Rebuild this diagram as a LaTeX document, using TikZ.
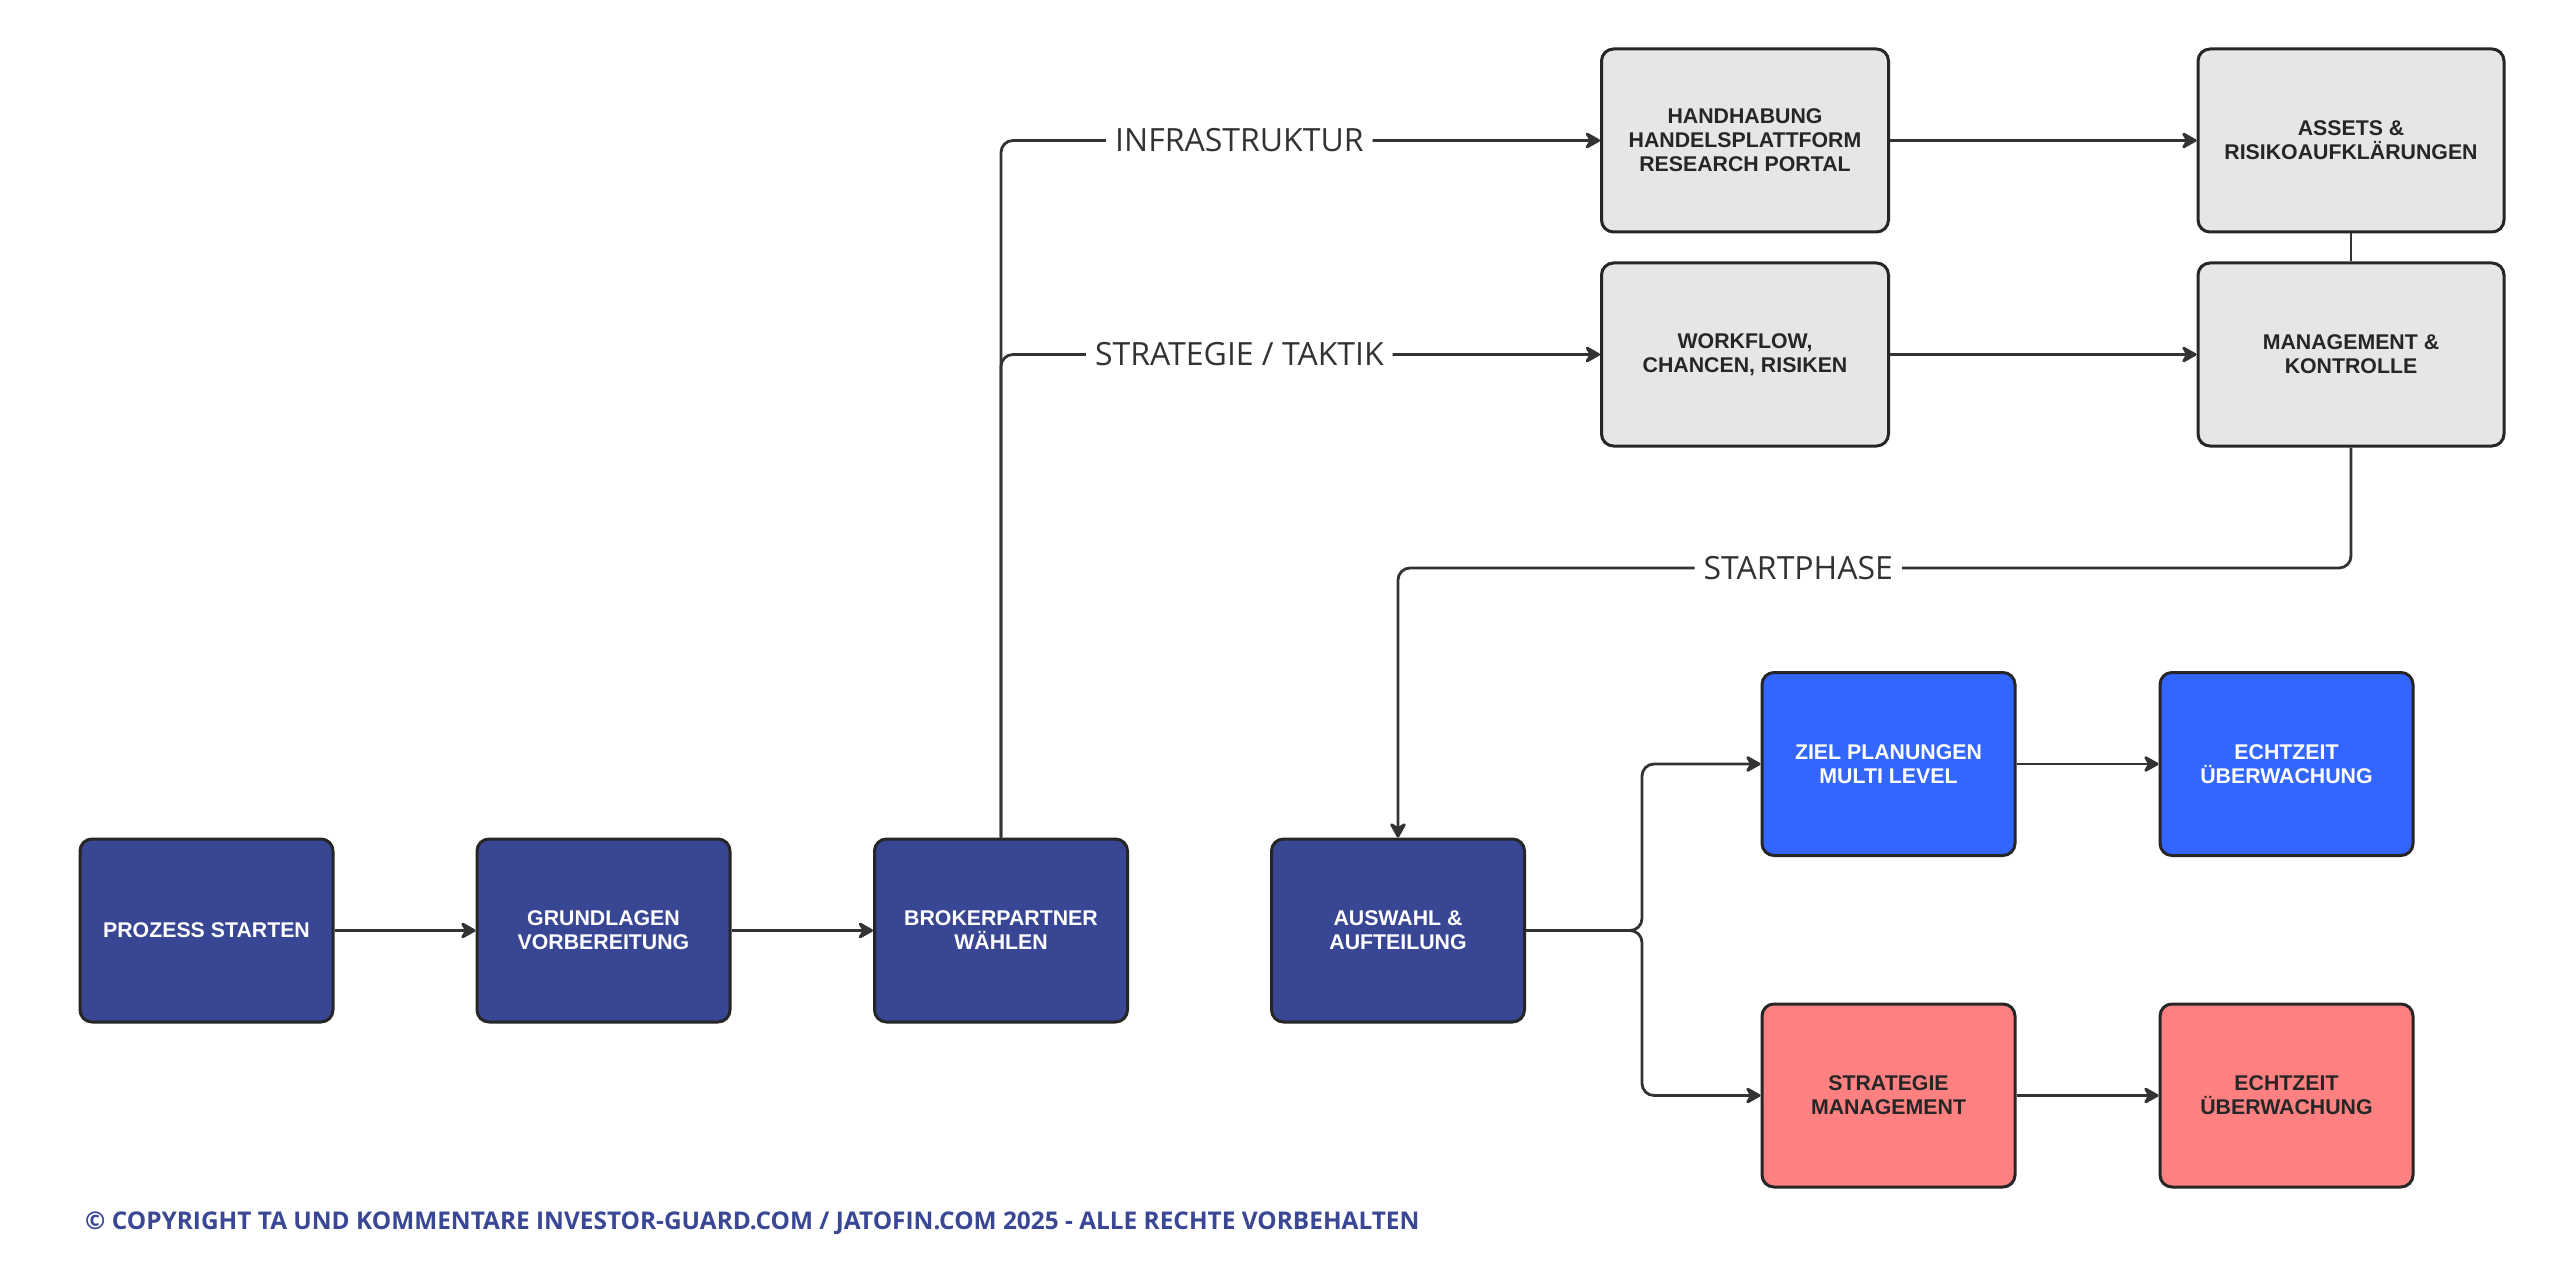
\documentclass[tikz,border=0pt]{standalone}
\usepackage{fontspec}
\setmainfont{Liberation Sans}
\newfontfamily\lblfont{Open Sans}
\newfontfamily\copyfont{Open Sans}
\usetikzlibrary{arrows.meta,positioning,calc}
\definecolor{darkblue}{HTML}{394694}
\definecolor{brightblue}{HTML}{3366FF}
\definecolor{salmon}{HTML}{FF8080}
\definecolor{lightgray}{HTML}{E6E6E6}
\definecolor{edge}{HTML}{262626}
\definecolor{wire}{HTML}{333333}
\definecolor{copyblue}{HTML}{3A4795}
\tikzset{
  box/.style={draw=edge, line width=3pt, rounded corners=12pt, minimum width=253pt, minimum height=183pt,
    align=center, font=\fontsize{21.3}{24}\selectfont\bfseries, inner sep=0pt},
  navybox/.style={box, fill=darkblue, text=white},
  bluebox/.style={box, fill=brightblue, text=white},
  redbox/.style={box, fill=salmon, text=edge},
  graybox/.style={box, fill=lightgray, text=edge},
  conn/.style={draw=wire, line width=2.8pt, rounded corners=12pt, -{Stealth[length=18pt,width=20pt,inset=6pt,round]}},
  plain/.style={draw=wire, line width=2.8pt, rounded corners=12pt},
  lbl/.style={fill=white, text=wire, font=\lblfont\fontsize{32}{36}\selectfont, inner xsep=9pt, inner ysep=4pt}
}
\begin{document}
\begin{tikzpicture}[x=1pt,y=-1pt]
\useasboundingbox (0,0) rectangle (2560,1273);
\fill[white] (0,0) rectangle (2560,1273);
% main row
\node[navybox] (n1) at (206.5,930.5) {PROZESS STARTEN};
\node[navybox] (n2) at (603.5,930.5) {GRUNDLAGEN\\VORBEREITUNG};
\node[navybox] (n3) at (1001,930.5) {BROKERPARTNER\\WÄHLEN};
\node[navybox] (n4) at (1398,930.5) {AUSWAHL \&\\AUFTEILUNG};
% right branch
\node[bluebox] (ziel) at (1888.5,764) {ZIEL PLANUNGEN\\MULTI LEVEL};
\node[bluebox] (echt1) at (2286.5,764) {ECHTZEIT\\ÜBERWACHUNG};
\node[redbox] (strat) at (1888.5,1095.5) {STRATEGIE\\MANAGEMENT};
\node[redbox] (echt2) at (2286.5,1095.5) {ECHTZEIT\\ÜBERWACHUNG};
% top gray boxes
\node[graybox, minimum width=287pt] (hand) at (1745,140.5) {HANDHABUNG\\HANDELSPLATTFORM\\RESEARCH PORTAL};
\node[graybox, minimum width=306pt] (assets) at (2351,140.5) {ASSETS \&\\RISIKOAUFKLÄRUNGEN};
\node[graybox, minimum width=287pt] (work) at (1745,354.5) {WORKFLOW,\\CHANCEN, RISIKEN};
\node[graybox, minimum width=306pt] (mgmt) at (2351,354.5) {MANAGEMENT \&\\KONTROLLE};
% connectors
\draw[conn] (n1) -- (n2);
\draw[conn] (n2) -- (n3);
\draw[conn] (n3.north) |- node[lbl, pos=0.699] {INFRASTRUKTUR} (hand.west);
\draw[conn] (n3.north) |- node[lbl, pos=0.699] {STRATEGIE / TAKTIK} (work.west);
\draw[conn] (hand) -- (assets);
\draw[conn] (work) -- (mgmt);
\draw[plain] (assets) -- (mgmt);
\coordinate (spc) at (1398,568);
\draw[conn] (mgmt.south) |- node[lbl, pos=0.79] {STARTPHASE} (spc) -- (n4.north);
\coordinate (split) at (1642,930.5);
\draw[conn] (n4.east) -- (split) |- (ziel.west);
\draw[conn] (n4.east) -- (split) |- (strat.west);
\draw[conn] (ziel) -- (echt1);
\draw[conn] (strat) -- (echt2);
% copyright
\node[anchor=west, text=copyblue, font=\copyfont\bfseries\fontsize{24.4}{28}\selectfont, inner sep=0pt] (copy) at (85,1223) {© COPYRIGHT TA UND KOMMENTARE INVESTOR-GUARD.COM / JATOFIN.COM 2025 - ALLE RECHTE VORBEHALTEN};
\end{tikzpicture}
\end{document}
